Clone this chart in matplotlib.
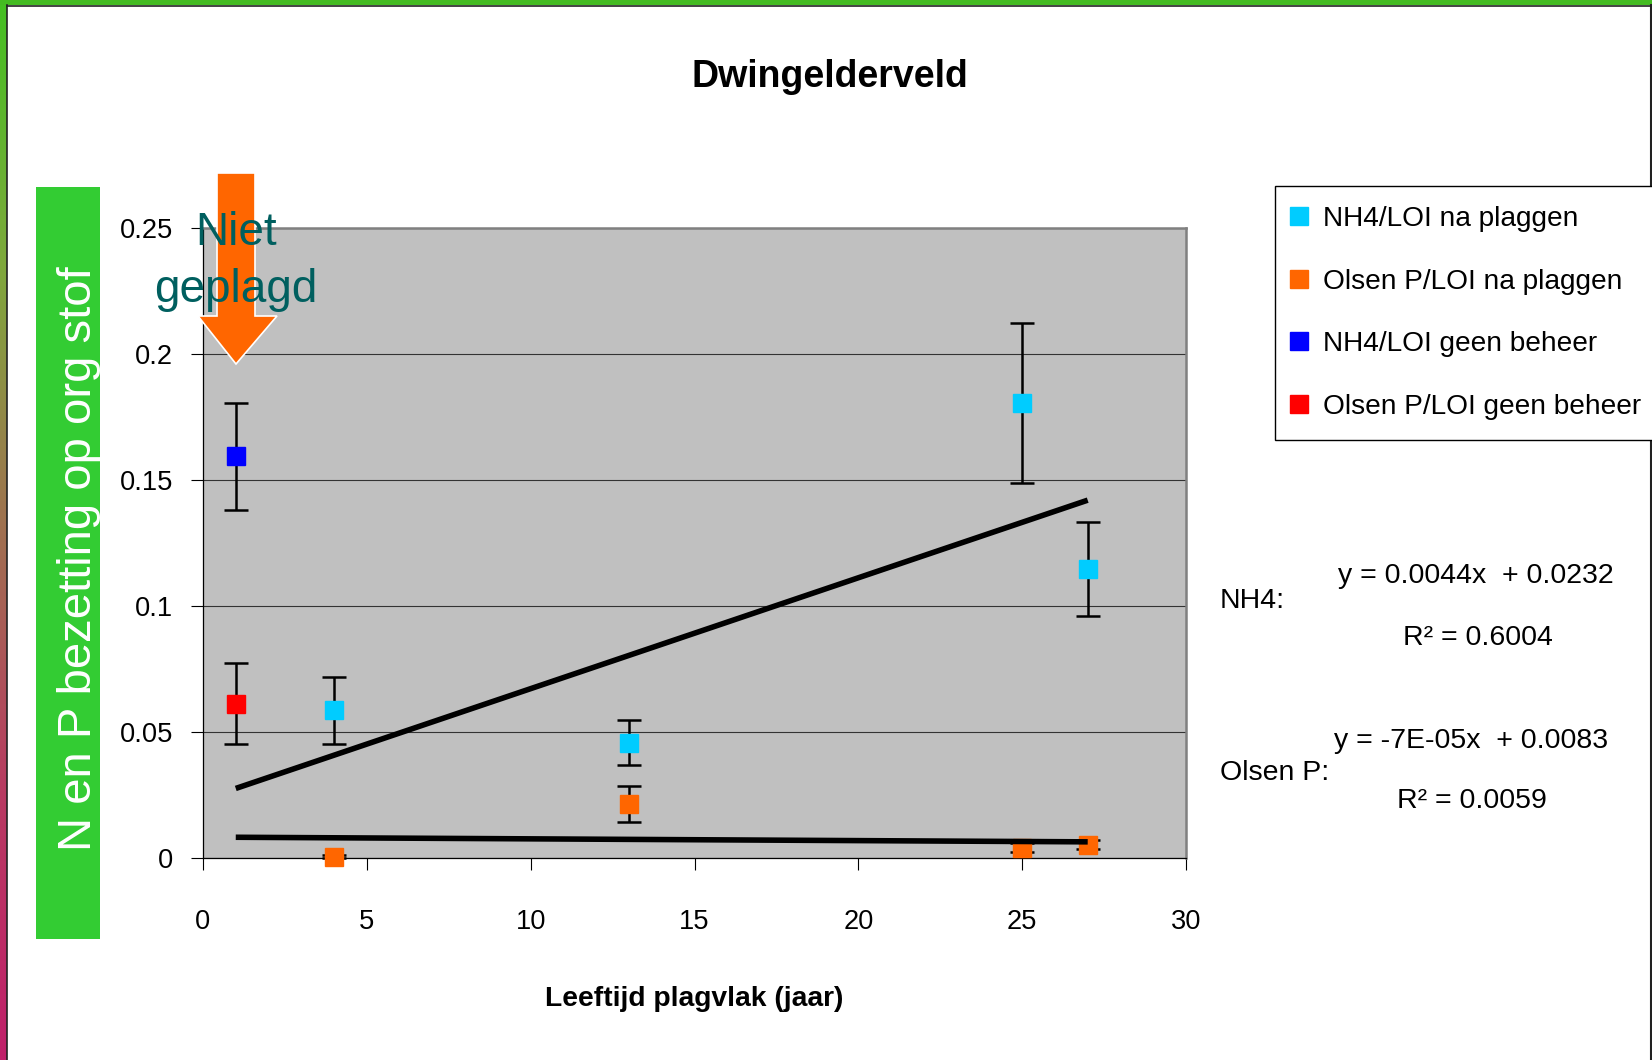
import numpy as np
import matplotlib
matplotlib.use('Agg')
import matplotlib.pyplot as plt
from matplotlib.patches import Rectangle, Polygon
from matplotlib.lines import Line2D
from matplotlib.colors import LinearSegmentedColormap

# no narrow Arial here, so plain Liberation Sans at sizes that match the widths
ARIAL = ['Liberation Sans', 'DejaVu Sans']
plt.rcParams['font.family'] = ARIAL

# ---- data ----
x_na = [4, 13, 25, 27]                       # leeftijd plagvlak (jaar)
nh4_na = [0.0587, 0.0458, 0.1806, 0.1147]
nh4_na_err = [0.0133, 0.0088, 0.0318, 0.0188]
olsen_na = [0.0005, 0.0213, 0.0041, 0.0053]
olsen_na_err = [0.0005, 0.0072, 0.0019, 0.0019]

x_geen = [1]                                 # niet geplagd
nh4_geen = [0.1594]
nh4_geen_err = [0.0213]
olsen_geen = [0.0613]
olsen_geen_err = [0.0160]

# trendlines (slope, intercept) as printed on the slide
nh4_fit = [0.0044, 0.0232]
olsen_fit = [-7e-05, 0.0083]
fit_x = [1, 27]

labels = ['NH4/LOI na plaggen', 'Olsen P/LOI na plaggen',
          'NH4/LOI geen beheer', 'Olsen P/LOI geen beheer']
colors = ['#00CCFF', '#FF6600', '#0000FF', '#FF0000']

x_ticks = [0, 5, 10, 15, 20, 25, 30]
y_ticks = [0, 0.05, 0.1, 0.15, 0.2, 0.25]
y_ticklabels = ['0', '0.05', '0.1', '0.15', '0.2', '0.25']

W, H = 1652, 1060
fig = plt.figure(figsize=(W / 100, H / 100), dpi=100)
fig.patch.set_facecolor('white')

def fx(px):
    return px / W

def fy(py):
    return 1 - py / H

# ---- slide border ----
border = LinearSegmentedColormap.from_list(
    'border', ['#44C022', '#7FA83C', '#A07050', '#B83A62', '#C0206A'])
strip = fig.add_axes([0, 0, fx(7), 1])
strip.imshow(np.linspace(0, 1, 256).reshape(-1, 1), cmap=border, aspect='auto')
strip.axis('off')
fig.add_artist(Rectangle((0, fy(5)), 1, 5 / H, transform=fig.transFigure,
                         color='#44BB22', lw=0))
fig.add_artist(Line2D([fx(7.5), fx(7.5)], [0, fy(5)], transform=fig.transFigure,
                      color='#222222', lw=1.2))
fig.add_artist(Line2D([fx(7), 1], [fy(5.5), fy(5.5)], transform=fig.transFigure,
                      color='#222222', lw=1.2))
fig.add_artist(Line2D([fx(1650.5), fx(1650.5)], [0, fy(5)], transform=fig.transFigure,
                      color='#222222', lw=1.5))

# ---- plot ----
ax = fig.add_axes([fx(203), fy(858), 983 / W, 630 / H])
ax.set_facecolor('#C0C0C0')

err_kw = dict(fmt='s', ms=12.5, ecolor='black', elinewidth=1.8, capsize=8.5,
              capthick=1.8, clip_on=False, zorder=3)
ax.errorbar(x_na, nh4_na, yerr=nh4_na_err, color=colors[0], mec=colors[0], **err_kw)
ax.errorbar(x_na, olsen_na, yerr=olsen_na_err, color=colors[1], mec=colors[1], **err_kw)
ax.errorbar(x_geen, nh4_geen, yerr=nh4_geen_err, color=colors[2], mec=colors[2], **err_kw)
ax.errorbar(x_geen, olsen_geen, yerr=olsen_geen_err, color=colors[3], mec=colors[3], **err_kw)

ax.plot(fit_x, np.polyval(nh4_fit, fit_x), color='black', lw=4,
        solid_capstyle='butt', zorder=5)
ax.plot(fit_x, np.polyval(olsen_fit, fit_x), color='black', lw=4,
        solid_capstyle='butt', zorder=5)

ax.set_xlim(0, 30)
ax.set_ylim(0, 0.25)
ax.set_xticks(x_ticks)
ax.set_yticks(y_ticks)
ax.set_yticklabels(y_ticklabels)
ax.yaxis.grid(True, color='#333333', lw=0.8)
ax.set_axisbelow(True)
ax.tick_params(direction='out', length=8.6, width=0.8, color='black', labelsize=19.6)
ax.tick_params(axis='x', pad=28)
ax.tick_params(axis='y', pad=13)
for s in ['left', 'bottom']:
    ax.spines[s].set_color('black')
    ax.spines[s].set_linewidth(0.9)
for s in ['top', 'right']:
    ax.spines[s].set_color('#808080')
    ax.spines[s].set_linewidth(1.8)

# ---- titles ----
fig.text(fx(830), fy(77), 'Dwingelderveld', ha='center', va='center',
         fontsize=27, fontweight='bold')
fig.text(fx(694), fy(999), 'Leeftijd plagvlak (jaar)', ha='center', va='center',
         fontsize=20.3, fontweight='bold')

# green y-label box
fig.add_artist(Rectangle((fx(36), fy(939)), 64 / W, 752 / H, transform=fig.transFigure,
                         color='#33CC33', lw=0))
fig.text(fx(79), fy(559), 'N en P bezetting op org stof', rotation=90,
         ha='center', va='center', fontsize=34, color='white')

# orange arrow + "Niet geplagd"
arrow_px = [(217, 173), (255, 173), (255, 316), (277, 316), (236, 364),
            (198, 316), (217, 316)]
fig.add_artist(Polygon([(fx(a), fy(b)) for a, b in arrow_px], closed=True,
                       transform=fig.transFigure, facecolor='#FF6600',
                       edgecolor='white', lw=1.2, zorder=6))
fig.text(fx(236), fy(245), 'Niet', ha='center', va='baseline', fontsize=33,
         color='#005F5F', zorder=7)
fig.text(fx(236), fy(302), 'geplagd', ha='center', va='baseline', fontsize=33,
         color='#005F5F', zorder=7)

# ---- legend ----
handles = [Line2D([], [], marker='s', ls='none', color=c, mec=c, ms=12.5) for c in colors]
leg = fig.legend(handles, labels, loc='upper left', bbox_to_anchor=(fx(1275), fy(186)),
                 frameon=True, fancybox=False, edgecolor='black', framealpha=1,
                 fontsize=20.2, handlelength=0.3, handletextpad=0.68, borderpad=0.72,
                 labelspacing=1.3, borderaxespad=0)
leg.get_frame().set_linewidth(1.0)

# ---- trendline equations ----
eq_size = 20.5
fig.text(fx(1220), fy(608), 'NH4:', ha='left', va='baseline', fontsize=eq_size)
fig.text(fx(1476), fy(583), 'y = 0.0044x  + 0.0232', ha='center', va='baseline', fontsize=eq_size)
fig.text(fx(1478), fy(645), 'R² = 0.6004', ha='center', va='baseline', fontsize=eq_size)
fig.text(fx(1220), fy(780), 'Olsen P:', ha='left', va='baseline', fontsize=eq_size)
fig.text(fx(1471), fy(748), 'y = -7E-05x  + 0.0083', ha='center', va='baseline', fontsize=eq_size)
fig.text(fx(1472), fy(808), 'R² = 0.0059', ha='center', va='baseline', fontsize=eq_size)

fig.savefig('out.png', dpi=100)
